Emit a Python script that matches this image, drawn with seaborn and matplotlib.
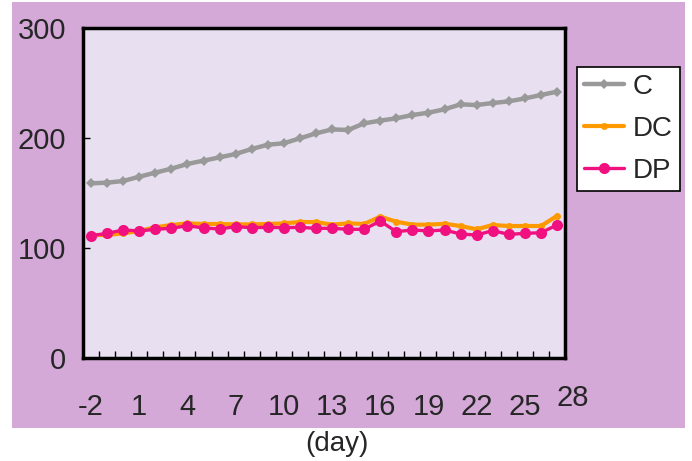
import matplotlib
matplotlib.use("Agg")
import matplotlib.pyplot as plt
import seaborn as sns
import pandas as pd
from matplotlib.patches import Rectangle

days = list(range(-2, 28))
c_vals = [158.8, 159.4, 160.9, 164.8, 168.5, 172.1, 176.4, 179.4, 182.4, 185.5,
          190.0, 193.9, 195.2, 199.7, 204.2, 207.8, 207.3, 213.3, 215.8, 217.9,
          220.9, 223.0, 226.1, 230.6, 230.0, 231.8, 233.3, 236.0, 239.1, 242.1]
dc_vals = [111.8, 111.8, 113.3, 115.5, 118.8, 120.9, 122.4, 121.8, 121.8, 121.5,
           121.5, 121.8, 122.4, 123.6, 123.6, 121.2, 122.4, 121.8, 128.5, 123.9,
           121.2, 121.2, 122.0, 120.0, 117.0, 120.9, 120.0, 120.0, 120.0, 129.1]
dp_vals = [111.2, 113.3, 116.4, 115.5, 117.0, 117.9, 120.3, 118.2, 117.3, 119.4,
           118.5, 118.8, 118.5, 118.8, 117.9, 117.9, 117.0, 117.0, 124.5, 114.8,
           116.4, 115.5, 116.4, 112.7, 111.8, 115.8, 112.4, 113.3, 113.9, 120.9]
series_names = ["C", "DC", "DP"]
tick_labels = ["-2", "1", "4", "7", "10", "13", "16", "19", "22", "25"]
extra_label = "28"
x_label = "(day)"

df = pd.DataFrame({
    "day": days * 3,
    "value": c_vals + dc_vals + dp_vals,
    "series": [series_names[0]] * 30 + [series_names[1]] * 30 + [series_names[2]] * 30,
})

sns.set_theme(style="white")
plt.rcParams["font.family"] = ["Liberation Sans", "DejaVu Sans"]

fig = plt.figure(figsize=(6.92, 4.61), dpi=100)
fig.patch.set_facecolor("white")
fig.patches.append(Rectangle((12 / 692, 33 / 461), 673 / 692, 426 / 461,
                             transform=fig.transFigure, facecolor="#D4A9D8",
                             edgecolor="none", zorder=-10))

ax = fig.add_axes([83 / 692, 103 / 461, 482 / 692, 330 / 461])
ax.set_facecolor("#E8E0F0")

styles = {
    "C": dict(color="#999999", marker="D", markersize=5, linewidth=3.2),
    "DC": dict(color="#FF9900", marker="o", markersize=5, linewidth=3.0),
    "DP": dict(color="#F0107F", marker="o", markersize=8, linewidth=2.4),
}
for name in series_names:
    sub = df[df["series"] == name]
    st = styles[name]
    sns.lineplot(data=sub, x="day", y="value", ax=ax, label=name,
                 color=st["color"], marker=st["marker"], markersize=st["markersize"],
                 linewidth=st["linewidth"], markeredgewidth=0)

ax.set_xlim(-2.5, 27.5)
ax.set_ylim(0, 300)
ax.set_yticks([0, 100, 200, 300])
ax.set_yticklabels(["0", "100", "200", "300"])
ax.set_xticks([int(t) for t in tick_labels])
ax.set_xticklabels(tick_labels)
ax.set_xticks([d + 0.5 for d in days[:-1]], minor=True)
ax.tick_params(axis="x", which="major", length=0, pad=25, labelsize=21)
ax.tick_params(axis="x", which="minor", direction="in", length=5, width=1, color="black", bottom=True)
ax.tick_params(axis="y", which="major", direction="in", length=5, width=1, color="black",
               pad=12, labelsize=21, left=True)
ax.text(28, -0.12, extra_label, transform=ax.get_xaxis_transform(), ha="center",
        va="center", fontsize=21, clip_on=False)
ax.set_xlabel("")
ax.set_ylabel("")
for s in ax.spines.values():
    s.set_visible(True)
    s.set_color("black")
    s.set_linewidth(2.5)

fig.text(337 / 692, 1 - 444 / 461, x_label, ha="center", va="center", fontsize=20)

leg = ax.legend(loc="upper left", bbox_to_anchor=(577 / 692, 1 - 67 / 461),
                bbox_transform=fig.transFigure, fontsize=20, frameon=True,
                fancybox=False, handlelength=1.45, handletextpad=0.3,
                borderpad=0.25, labelspacing=0.58, borderaxespad=0)
leg.get_frame().set_edgecolor("black")
leg.get_frame().set_linewidth(1.2)
leg.get_frame().set_facecolor("white")
leg.get_frame().set_alpha(1)

fig.savefig("out.png", dpi=100)
